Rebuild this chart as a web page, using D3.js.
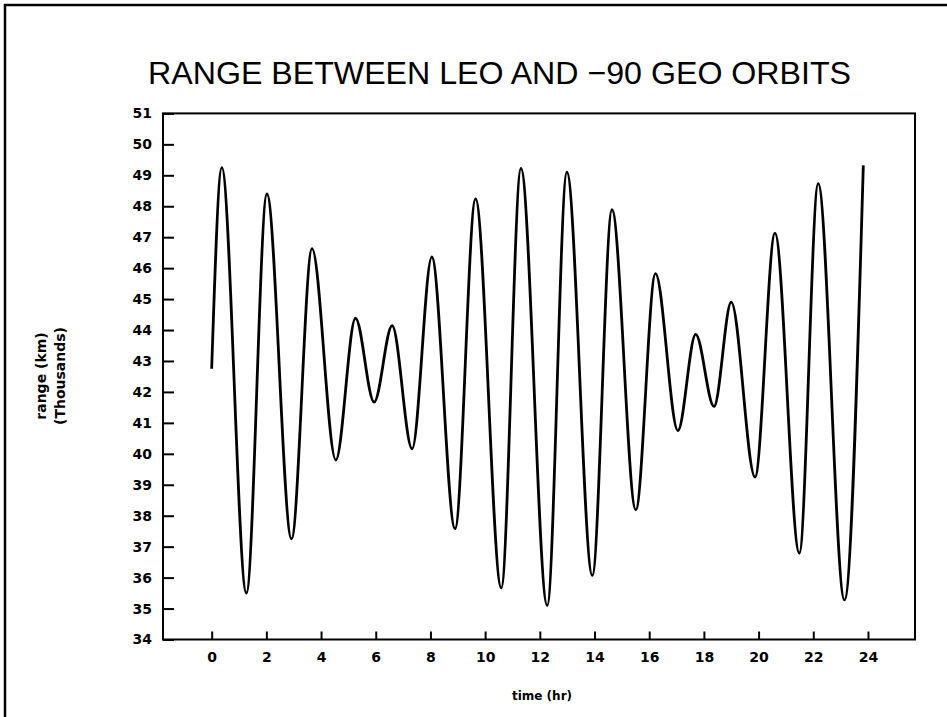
<!DOCTYPE html>
<html>
<head>
<meta charset="utf-8">
<script src="https://cdn.jsdelivr.net/npm/d3@7"></script>
<style>
  body { margin: 0; background: #fff; }
  svg { display: block; }
  .tick text { font-family: "DejaVu Sans", sans-serif; font-weight: bold; font-size: 14px; fill: #000; }
</style>
</head>
<body>
<svg id="chart" width="947" height="717"></svg>
<script>
// time (hr) of each turning point
const hours = [0, 0.37, 1.27, 2.02, 2.92, 3.67, 4.54, 5.26, 5.94, 6.60, 7.33, 8.05, 8.90, 9.65,
  10.59, 11.31, 12.27, 12.99, 13.92, 14.64, 15.51, 16.23, 17.05, 17.70, 18.37, 19.00,
  19.87, 20.60, 21.49, 22.18, 23.14, 23.83];
// range (km, thousands)
const rangeKm = [42.75, 49.25, 35.5, 48.4, 37.25, 46.63, 39.8, 44.38, 41.67, 44.14, 40.16, 46.36, 37.58, 48.24,
  35.67, 49.22, 35.1, 49.1, 36.07, 47.89, 38.19, 45.82, 40.75, 43.86, 41.53, 44.9,
  39.25, 47.13, 36.79, 48.73, 35.28, 49.32];
const xTicks = [0, 2, 4, 6, 8, 10, 12, 14, 16, 18, 20, 22, 24];
const yTicks = d3.range(34, 52);

const data = hours.map((t, i) => ({ t: t, r: rangeKm[i] }));

const svg = d3.select("#chart");
const plot = { left: 163, right: 915, top: 113.4, bottom: 639.5 };

// outer page frame
svg.append("path")
    .attr("d", "M5,717 L5,5 L947,5")
    .attr("fill", "none")
    .attr("stroke", "#000")
    .attr("stroke-width", 2.5);

svg.append("text")
    .attr("x", 499.5)
    .attr("y", 84)
    .attr("text-anchor", "middle")
    .attr("font-family", "Liberation Sans, sans-serif")
    .attr("font-size", 32)
    .attr("textLength", 703)
    .attr("lengthAdjust", "spacingAndGlyphs")
    .text("RANGE BETWEEN LEO AND \u221290 GEO ORBITS");

const x = d3.scaleLinear().domain([-1.78, 25.72]).range([plot.left, plot.right]);
const y = d3.scaleLinear().domain([34, 51]).range([plot.bottom, plot.top]);

// y axis, ticks pointing inward
svg.append("g")
    .attr("transform", `translate(${plot.left},0)`)
    .call(d3.axisLeft(y).tickValues(yTicks).tickFormat(d3.format("d")).tickSize(-11).tickPadding(11))
    .call(g => g.select(".domain").remove())
    .call(g => g.selectAll(".tick line").attr("stroke-width", 2));

// x axis, ticks pointing up
svg.append("g")
    .attr("transform", `translate(0,${plot.bottom})`)
    .call(d3.axisBottom(x).tickValues(xTicks).tickSize(-8).tickPadding(13))
    .call(g => g.select(".domain").remove())
    .call(g => g.selectAll(".tick line").attr("stroke-width", 2));

svg.append("rect")
    .attr("x", plot.left)
    .attr("y", plot.top)
    .attr("width", plot.right - plot.left)
    .attr("height", plot.bottom - plot.top)
    .attr("fill", "none")
    .attr("stroke", "#000")
    .attr("stroke-width", 2);

const line = d3.line()
    .x(d => x(d.t))
    .y(d => y(d.r))
    .curve(d3.curveMonotoneX);

svg.append("path")
    .datum(data)
    .attr("d", line)
    .attr("fill", "none")
    .attr("stroke", "#000")
    .attr("stroke-width", 2.8);

// axis titles
svg.append("text")
    .attr("x", 542)
    .attr("y", 700)
    .attr("text-anchor", "middle")
    .attr("font-family", "DejaVu Sans, sans-serif")
    .attr("font-weight", "bold")
    .attr("font-size", 12)
    .text("time (hr)");

const yLab = svg.append("text")
    .attr("transform", "translate(0,376) rotate(-90)")
    .attr("text-anchor", "middle")
    .attr("font-family", "DejaVu Sans, sans-serif")
    .attr("font-weight", "bold")
    .attr("font-size", 14);
yLab.append("tspan").attr("x", 0).attr("y", 46).text("range (km)");
yLab.append("tspan").attr("x", 0).attr("y", 65).text("(Thousands)");
</script>
</body>
</html>
